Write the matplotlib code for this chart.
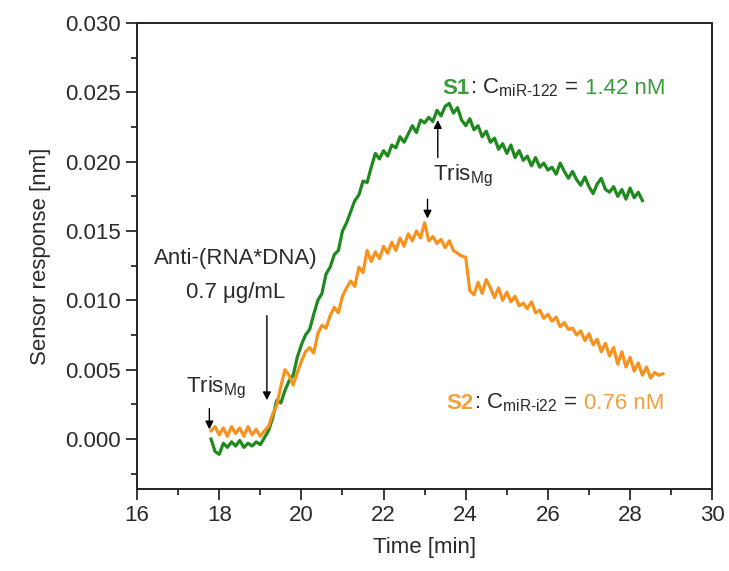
import numpy as np
import matplotlib
matplotlib.use('Agg')
import matplotlib.pyplot as plt
from matplotlib import rc
from matplotlib.offsetbox import TextArea, HPacker, AnnotationBbox
from matplotlib.ticker import MultipleLocator, FormatStrFormatter

rc('font', family='Liberation Sans', size=16)
rc('mathtext', default='regular')
rc('text', color='#2a2a2a')
rc('axes', labelcolor='#2a2a2a')
rc('xtick', color='#2a2a2a')
rc('ytick', color='#2a2a2a')

# ---- data (sensor response in 1e-3 nm, sampled every 0.1 min) ----
t_s1 = np.round(np.arange(17.8, 28.35, 0.1), 2)
s1 = np.array([
    0.0, -0.9, -1.1, -0.3, -0.6, -0.2, -0.5, -0.1, -0.6, -0.3,
    -0.5, -0.2, -0.4, 0.1, 0.6, 1.5, 2.8, 2.6, 3.5, 4.2,
    4.6, 5.9, 6.8, 7.5, 7.9, 9.0, 10.0, 10.5, 11.9, 12.4,
    13.3, 13.6, 15.0, 15.6, 16.4, 17.2, 17.6, 18.6, 18.5, 19.6,
    20.6, 20.2, 20.8, 20.4, 21.2, 21.0, 21.8, 21.4, 22.0, 22.6,
    22.1, 23.0, 22.8, 23.2, 22.9, 23.7, 23.3, 24.0, 24.2, 23.5,
    23.9, 23.0, 22.6, 23.1, 22.3, 22.6, 21.8, 22.2, 21.4, 21.7,
    20.9, 21.3, 20.6, 21.2, 20.3, 20.8, 20.1, 20.4, 19.7, 20.3,
    19.6, 19.9, 19.4, 19.6, 19.1, 19.9, 19.3, 18.8, 19.3, 18.7,
    18.3, 18.9, 18.2, 17.7, 18.4, 18.8, 18.0, 17.8, 18.2, 17.5,
    18.0, 17.3, 18.1, 17.4, 17.8, 17.2]) * 1e-3

t_s2 = np.round(np.arange(17.8, 28.85, 0.1), 2)
s2 = np.array([
    0.6, 0.9, 0.3, 0.8, 0.2, 0.9, 0.4, 0.8, 0.2, 0.9,
    0.3, 0.7, 0.2, 0.6, 0.9, 1.8, 2.4, 3.8, 5.0, 4.6,
    3.9, 4.8, 5.6, 6.3, 6.6, 6.2, 7.6, 8.2, 8.0, 8.9,
    9.5, 9.1, 10.3, 10.9, 11.4, 11.0, 12.4, 12.0, 13.6, 12.8,
    13.5, 13.0, 13.9, 13.4, 14.2, 13.6, 14.5, 13.9, 14.8, 14.3,
    15.0, 14.5, 15.6, 14.3, 14.6, 14.1, 14.4, 13.8, 14.3, 13.6,
    13.4, 13.2, 13.1, 10.7, 10.4, 11.3, 10.5, 11.5, 10.9, 10.2,
    10.9, 10.0, 10.6, 9.9, 10.3, 9.6, 9.8, 9.4, 9.9, 9.1,
    9.3, 8.7, 9.0, 8.5, 8.8, 8.1, 8.4, 7.9, 8.0, 7.5,
    7.8, 7.1, 7.6, 6.8, 7.2, 6.3, 6.9, 6.0, 6.6, 5.4,
    6.3, 5.2, 5.9, 4.9, 5.5, 4.6, 5.2, 4.4, 4.8, 4.6,
    4.7]) * 1e-3

green = '#1e8a1e'
orange = '#f7921e'
green_txt = '#3c9c3c'
orange_txt = '#f2a03a'

#======================================
fig = plt.figure(figsize=(7.29, 5.71), dpi=100)
ax = fig.add_axes([0.188, 0.1436, 0.789, 0.8161])
ax.set_xlabel('Time [min]', labelpad=8)
ax.set_ylabel('Sensor response [nm]', labelpad=10)
#======================================

ax.plot(t_s1, s1, '-', color=green, linewidth=2.3)
ax.plot(t_s2, s2, '-', color=orange, linewidth=2.3)

ax.set_xlim([16, 30])
ax.set_ylim([-0.0036, 0.030])
ax.xaxis.set_major_locator(MultipleLocator(2))
ax.xaxis.set_minor_locator(MultipleLocator(1))
ax.yaxis.set_major_locator(MultipleLocator(0.005))
ax.yaxis.set_minor_locator(MultipleLocator(0.0025))
ax.yaxis.set_major_formatter(FormatStrFormatter('%.3f'))
ax.tick_params(which='major', direction='out', length=8, width=1.3)
ax.tick_params(which='minor', direction='out', length=4.5, width=1.3)
for sp in ax.spines.values():
    sp.set_linewidth(1.4)
    sp.set_color('#222222')

# annotations
arr = dict(arrowstyle='-|>', color='black', lw=1.0, mutation_scale=12)
ax.text(18.4, 0.0130, 'Anti-(RNA*DNA)', ha='center', va='center')
ax.text(18.4, 0.0106, '0.7 μg/mL', ha='center', va='center')
ax.annotate('', xy=(19.16, 0.0026), xytext=(19.16, 0.0091), arrowprops=arr)

ax.text(17.2, 0.0037, 'Tris$_{Mg}$', ha='left', va='center')
ax.annotate('', xy=(17.76, 0.0005), xytext=(17.76, 0.0024), arrowprops=arr)

ax.text(23.2, 0.0190, 'Tris$_{Mg}$', ha='left', va='center')
ax.annotate('', xy=(23.32, 0.0232), xytext=(23.32, 0.0201), arrowprops=arr)
ax.annotate('', xy=(23.07, 0.0157), xytext=(23.07, 0.0175), arrowprops=arr)


def label(x, y, tag, sub, val, col):
    head = HPacker(children=[
        TextArea(tag, textprops=dict(color=col, fontweight='bold', size=16)),
        TextArea(': C$_{' + sub + '}$\u00a0=', textprops=dict(color='#2a2a2a', size=16))],
        align='baseline', pad=0, sep=0)
    box = HPacker(children=[head, TextArea(val, textprops=dict(color=col, size=16))],
                  align='baseline', pad=0, sep=5)
    ab = AnnotationBbox(box, (x, y), box_alignment=(0, 0.5), frameon=False, pad=0)
    ax.add_artist(ab)


label(23.44, 0.0253, 'S1', 'miR\u2010122', '1.42 nM', green_txt)
label(23.54, 0.0026, 'S2', 'miR\u2010i22', '0.76 nM', orange_txt)

plt.savefig('out.png', dpi=100)
